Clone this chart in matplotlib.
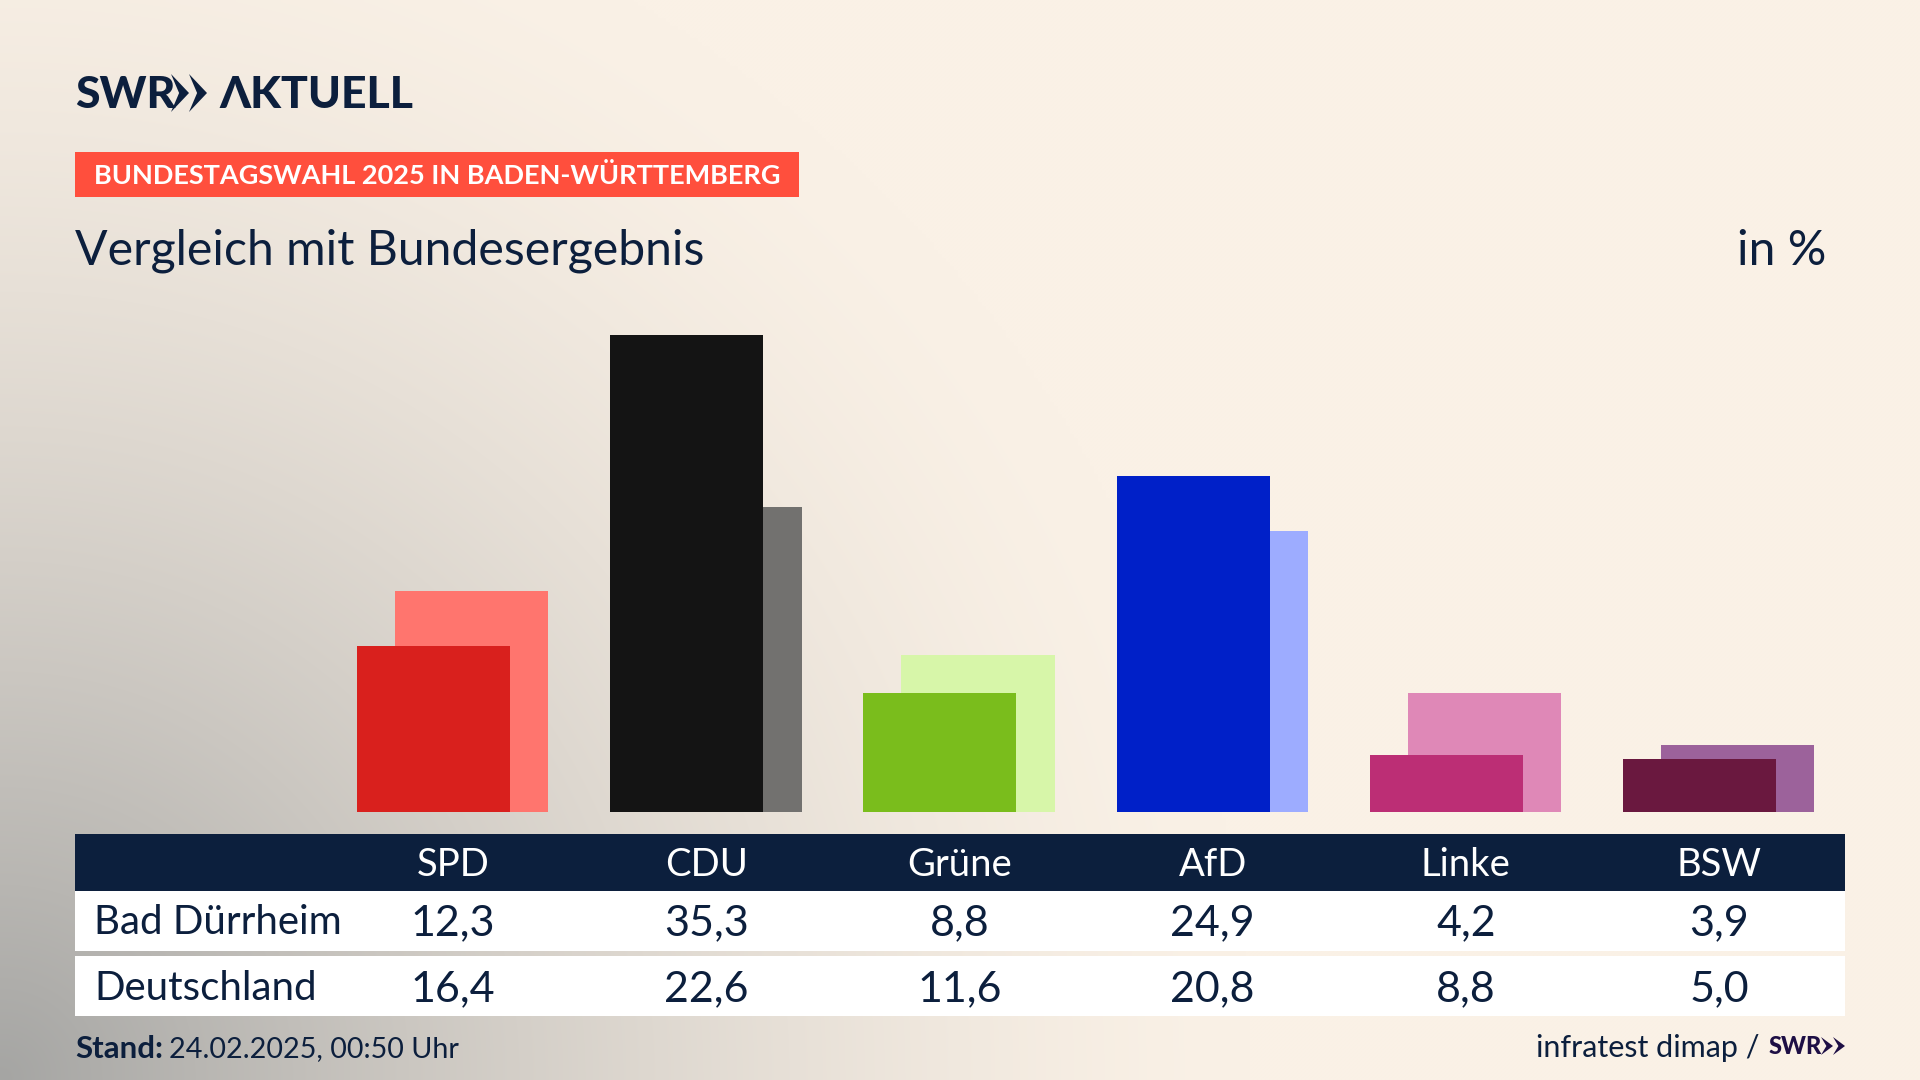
# Bundestagswahl 2025 comparison chart, Bad Duerrheim vs Deutschland

import matplotlib
matplotlib.use('Agg')
import matplotlib.pyplot as plt
import numpy as np
from matplotlib.patches import Polygon, Rectangle

parties = ['SPD', 'CDU', 'Grüne', 'AfD', 'Linke', 'BSW']
bad_duerrheim = [12.3, 35.3, 8.8, 24.9, 4.2, 3.9]
deutschland = [16.4, 22.6, 11.6, 20.8, 8.8, 5.0]
front_colors = ['#D9201D', '#141414', '#7ABD1C', '#0020C8', '#BC2E75', '#6A183F']
back_colors = ['#FF756E', '#72716F', '#D7F6A9', '#9DACFF', '#DF88B7', '#9C629B']
row_names = ['Bad Dürrheim', 'Deutschland']

NAVY = '#0C1F3D'
FONT = ['Lato', 'Noto Sans']

def label(v):
    return f'{v:.1f}'.replace('.', ',')

def chevrons(ax, x0, y0, w, h, color):
    # Two arrow heads, the mark in the SWR logo
    for x in [x0, x0 + w]:
        ax.add_patch(Polygon([(x, y0), (x + w, y0 + h/2), (x, y0 + h), (x + w*0.45, y0 + h/2)],
                             closed=True, color=color, lw=0))

fig = plt.figure(figsize=(19.2, 10.8), dpi=100)

# Background: cream, fading to grey towards the lower left corner
yy, xx = np.mgrid[0:1080:270j, 0:1920:480j]
d = np.sqrt((xx/1250)**2 + ((1080 - yy)/1250)**2)
t = np.clip(1 - d, 0, 1)[..., None]**1.5
cream = np.array([250, 241, 230])/255
grey = np.array([165, 165, 163])/255
bg = cream*(1 - t) + grey*t
bg_ax = fig.add_axes([0, 0, 1, 1], zorder=0)
bg_ax.imshow(bg, aspect='auto', extent=(0, 1920, 1080, 0), interpolation='bilinear')
bg_ax.axis('off')

# Layout layer in pixel coordinates
lay = fig.add_axes([0, 0, 1, 1], zorder=1)
lay.set_xlim(0, 1920)
lay.set_ylim(1080, 0)
lay.axis('off')
lay.patch.set_alpha(0)

# Logo
lay.text(75, 95, 'SWR', fontsize=32, fontweight='black', color=NAVY, va='center',
         ha='left', family=FONT)
chevrons(lay, 171, 74, 18, 38, NAVY)
lay.text(219, 95, 'ΛKTUELL', fontsize=32, fontweight='black', color=NAVY, va='center',
         ha='left', family=FONT)

# Banner and titles
lay.add_patch(Rectangle((75, 152), 724, 45, color='#FF4F3D', lw=0))
lay.text(94, 176, 'BUNDESTAGSWAHL 2025 IN BADEN-WÜRTTEMBERG', fontsize=19.5, fontweight='bold',
         color='white', va='center', ha='left', family=FONT)
lay.text(75, 251, 'Vergleich mit Bundesergebnis', fontsize=34.7, color=NAVY, va='center',
         ha='left', family=FONT)
lay.text(1826, 251, 'in %', fontsize=34.7, color=NAVY, va='center', ha='right', family=FONT)

# Table below the bars
lay.add_patch(Rectangle((75, 834), 1770, 57, color=NAVY, lw=0))
lay.add_patch(Rectangle((75, 891), 1770, 60, color='white', lw=0))
lay.add_patch(Rectangle((75, 956), 1770, 60, color='white', lw=0))

# Bars, one x unit is one party
ax = fig.add_axes([75/1920, (1080 - 812)/1080, 1770/1920, 522/1080], zorder=2)
ax.set_xlim((75 - 453)/253.2, (1845 - 453)/253.2)
ax.set_ylim(0, 522/13.5)
ax.axis('off')
ax.patch.set_alpha(0)
x = np.arange(len(parties))
ax.bar(x + 0.074, deutschland, width=0.606, color=back_colors, lw=0)
ax.bar(x - 0.077, bad_duerrheim, width=0.604, color=front_colors, lw=0)

for i, p in enumerate(parties):
    cx = 453 + 253.2*i
    lay.text(cx, 865, p, fontsize=27.5, color='white', va='center', ha='center', family=FONT)
    lay.text(cx, 923, label(bad_duerrheim[i]), fontsize=31, color=NAVY, va='center', ha='center', family=FONT)
    lay.text(cx, 989, label(deutschland[i]), fontsize=31, color=NAVY, va='center', ha='center', family=FONT)
lay.text(94, 923, row_names[0], fontsize=29, color=NAVY, va='center', ha='left', family=FONT)
lay.text(94, 989, row_names[1], fontsize=29, color=NAVY, va='center', ha='left', family=FONT)

# Footer
lay.text(75, 1049, 'Stand:', fontsize=22.5, fontweight='bold', color=NAVY, va='center', ha='left', family=FONT)
lay.text(169, 1049, '24.02.2025, 00:50 Uhr', fontsize=20.7, color=NAVY, va='center', ha='left', family=FONT)
lay.text(1760, 1048, 'infratest dimap /', fontsize=22, color=NAVY, va='center', ha='right', family=FONT)
lay.text(1769, 1047, 'SWR', fontsize=17, fontweight='black', color='#1E0F45', va='center', ha='left', family=FONT)
chevrons(lay, 1821, 1037, 12, 18, '#1E0F45')

fig.savefig('out.png', dpi=100)
